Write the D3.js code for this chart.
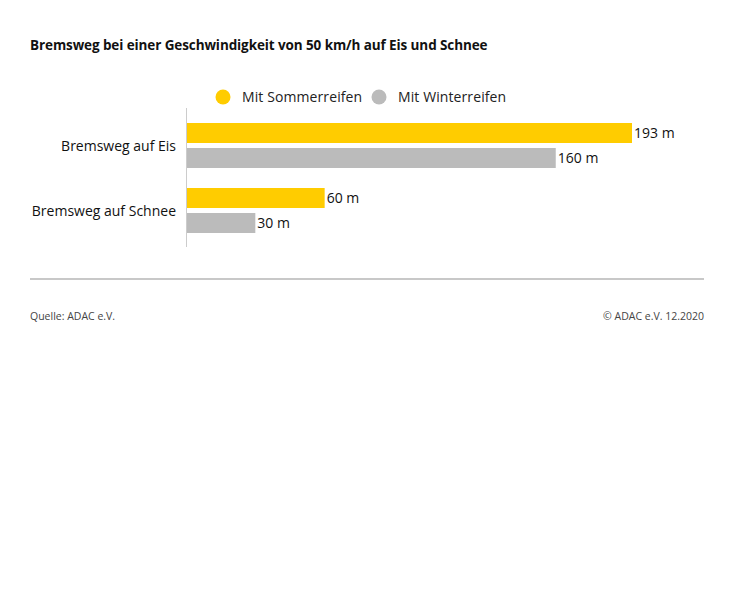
<!DOCTYPE html>
<html><head><meta charset="utf-8">
<script src="https://cdn.jsdelivr.net/npm/d3@7"></script>
<style>body{margin:0;background:#fff}svg{display:block}</style>
</head><body>
<script>
const categories = ["Bremsweg auf Eis", "Bremsweg auf Schnee"];
const seriesNames = ["Mit Sommerreifen", "Mit Winterreifen"];
const sommer = [193, 60];
const winter = [160, 30];
const unit = "m";
const colors = ["#ffcc00", "#bbbbbb"];

const W = 734, H = 602;
const svg = d3.select("body").append("svg").attr("width", W).attr("height", H);
const font = "'Open Sans', 'Noto Sans', sans-serif";

svg.append("text").attr("x", 30).attr("y", 50).attr("font-family", font)
  .attr("font-weight", 700).attr("font-size", 13.5).attr("fill", "#111").attr("letter-spacing", -0.1)
  .text("Bremsweg bei einer Geschwindigkeit von 50 km/h auf Eis und Schnee");

// legend
const legX = [223, 379];
seriesNames.forEach((s, i) => {
  svg.append("circle").attr("cx", legX[i]).attr("cy", 97).attr("r", 7.5).attr("fill", colors[i]);
  svg.append("text").attr("x", legX[i] + 19).attr("y", 102).attr("font-family", font)
    .attr("font-size", 14).attr("font-weight", 500).attr("letter-spacing", 0.1).attr("fill", "#222").text(s);
});

const x0 = 186;
const x = d3.scaleLinear().domain([0, d3.max(sommer)]).range([x0, 632]);
const y = d3.scaleBand().domain(categories).range([113, 243]);
const yi = d3.scaleBand().domain(seriesNames).range([10, 55]).paddingInner(0.2);

const data = categories.map((c, i) => ({c, vals: [sommer[i], winter[i]]}));
const g = svg.selectAll("g.cat").data(data).join("g").attr("class", "cat")
  .attr("transform", d => `translate(0,${y(d.c)})`);

g.selectAll("rect").data(d => d.vals.map((v, j) => ({v, s: seriesNames[j], j})))
  .join("rect").attr("x", x0).attr("y", d => yi(d.s)).attr("width", d => x(d.v) - x0)
  .attr("height", yi.bandwidth()).attr("fill", d => colors[d.j]);

g.selectAll("text.val").data(d => d.vals.map((v, j) => ({v, s: seriesNames[j], j})))
  .join("text").attr("class", "val").attr("x", d => x(d.v) + 2).attr("y", d => yi(d.s) + yi.bandwidth() / 2 + 5)
  .attr("font-family", font).attr("font-size", 14).attr("font-weight", 500).attr("fill", "#111").text(d => `${d.v} ${unit}`);

g.append("text").attr("x", 176).attr("y", y.bandwidth() / 2 + 5).attr("text-anchor", "end")
  .attr("font-family", font).attr("font-size", 14).attr("font-weight", 500).attr("fill", "#111").text(d => d.c);

svg.append("line").attr("x1", x0 + 0.5).attr("x2", x0 + 0.5).attr("y1", 108).attr("y2", 247)
  .attr("stroke", "#cccccc").attr("stroke-width", 1);

svg.append("line").attr("x1", 30).attr("x2", 704).attr("y1", 279).attr("y2", 279)
  .attr("stroke", "#c8c8c8").attr("stroke-width", 2);

svg.append("text").attr("x", 30).attr("y", 320).attr("font-family", font).attr("font-size", 10.5)
  .attr("fill", "#444").text("Quelle: ADAC e.V.");
svg.append("text").attr("x", 704).attr("y", 320).attr("text-anchor", "end").attr("font-family", font)
  .attr("font-size", 10.5).attr("fill", "#444").text("© ADAC e.V. 12.2020");
</script>
</body></html>
